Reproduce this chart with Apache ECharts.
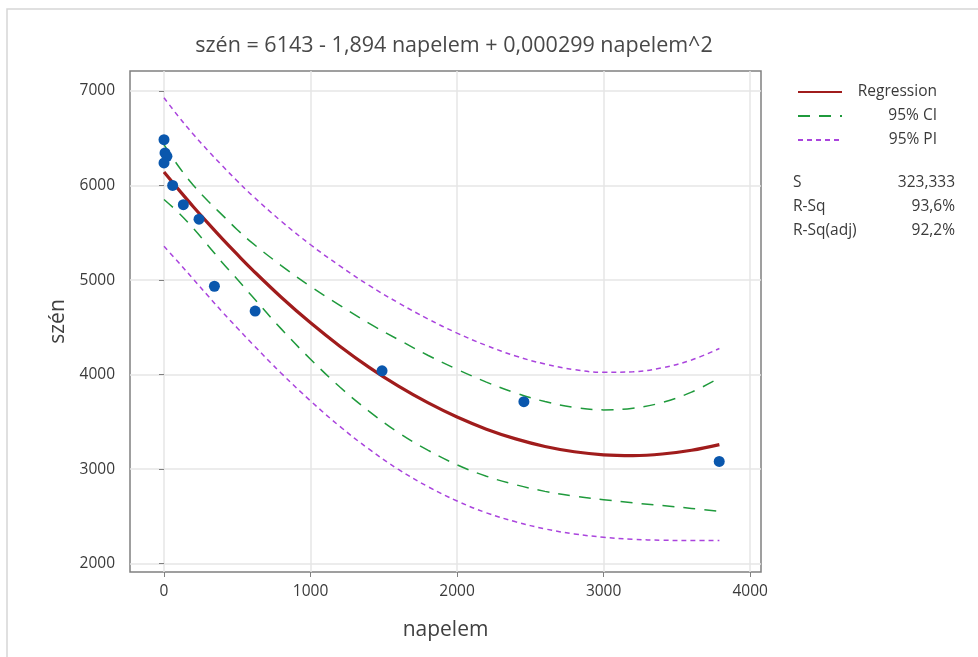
<!DOCTYPE html>
<html>
<head>
<meta charset="utf-8">
<script src="https://cdn.jsdelivr.net/npm/echarts@6/dist/echarts.min.js"></script>
<style>html,body{margin:0;padding:0;background:#fff;}#c{width:978px;height:657px;}</style>
</head>
<body>
<div id="c"></div>
<script>
// observed points
const napelem = [0, 7, 20, 0, 59, 132, 239, 344, 622, 1488, 2456, 3789];
const szen    = [6486, 6345, 6310, 6240, 6002, 5798, 5644, 4935, 4672, 4040, 3714, 3082];

// curve sample x positions
const curveX = [0,100,200,300,400,500,600,800,1000,1200,1400,1600,1800,2000,2200,2400,2600,2800,3000,3200,3400,3600,3790];
const regression = [6143,5957,5776,5602,5433,5271,5114,4819,4548,4301,4077,3878,3703,3551,3423,3320,3240,3184,3152,3144,3160,3200,3260];
const ciUpper = [6433,6202,6004,5837,5685,5533,5396,5154,4933,4733,4542,4370,4205,4056,3921,3805,3715,3654,3627,3644,3705,3815,3965];
const ciLower = [5853,5712,5548,5367,5181,5009,4832,4484,4163,3869,3612,3386,3201,3046,2925,2835,2765,2714,2677,2644,2615,2585,2555];
const piUpper = [6929,6728,6542,6370,6206,6048,5898,5623,5374,5150,4943,4759,4590,4439,4308,4197,4112,4053,4024,4030,4072,4155,4276];
const piLower = [5357,5186,5010,4834,4660,4494,4330,4015,3722,3452,3211,2997,2816,2663,2538,2443,2368,2315,2280,2258,2248,2245,2244];

const xTicks = [0,1000,2000,3000,4000];
const yTicks = [2000,3000,4000,5000,6000,7000];
const titleText = 'szén = 6143 - 1,894 napelem + 0,000299 napelem^2';
const statNames = ['S','R-Sq','R-Sq(adj)'];
const statValues = ['323,333','93,6%','92,2%'];

const FONT = '"Open Sans", "Noto Sans", sans-serif';
const TXT = '#3a3a3a';
const pair = (xs, ys) => xs.map((x, i) => [x, ys[i]]);

const chart = echarts.init(document.getElementById('c'), null, {renderer: 'canvas'});
const axisCommon = {
  axisLine: {show: false},
  axisTick: {show: true, length: 5, lineStyle: {color: '#808080'}},
  splitLine: {show: true, lineStyle: {color: '#e6e6e6', width: 1.5}},
  axisLabel: {color: TXT, fontSize: 15.5, fontFamily: FONT, formatter: v => String(v)},
  nameTextStyle: {color: '#404040', fontSize: 21, fontFamily: FONT}
};
chart.setOption({
  animation: false,
  backgroundColor: '#fff',
  title: {
    text: titleText, left: 449, top: 30, textAlign: 'center',
    textStyle: {color: '#484848', fontSize: 21.5, fontWeight: 'normal', fontFamily: FONT}
  },
  grid: {left: 130, right: 217, top: 71, bottom: 85, show: true, borderColor: '#808080', borderWidth: 1.5, backgroundColor: 'transparent'},
  xAxis: Object.assign({}, axisCommon, {
    type: 'value', min: -232, max: 4074,
    name: 'napelem', nameLocation: 'middle', nameGap: 48,
    axisTick: Object.assign({}, axisCommon.axisTick, {customValues: xTicks}),
    axisLabel: Object.assign({}, axisCommon.axisLabel, {customValues: xTicks, margin: 12})
  }),
  yAxis: Object.assign({}, axisCommon, {
    type: 'value', min: 1912, max: 7212,
    name: 'szén', nameLocation: 'middle', nameGap: 55,
    axisTick: Object.assign({}, axisCommon.axisTick, {customValues: yTicks}),
    axisLabel: Object.assign({}, axisCommon.axisLabel, {customValues: yTicks, margin: 15})
  }),
  legend: {
    orient: 'vertical', left: 792, top: 79, itemWidth: 44, itemHeight: 14, itemGap: 8,
    data: ['Regression','95% CI','95% PI'],
    itemStyle: {opacity: 0},
    formatter: n => '{a|' + n + '}',
    textStyle: {color: TXT, fontSize: 15.5, fontFamily: FONT, lineHeight: 14,
      rich: {a: {width: 90, align: 'right', lineHeight: 14, fontSize: 15.5, fontFamily: FONT, color: TXT}}}
  },
  graphic: [
    {type: 'rect', shape: {x: 7, y: 9, width: 1200, height: 1000}, style: {fill: 'none', stroke: '#d6d6d6', lineWidth: 1.5}, silent: true},
    {type: 'group', left: 793, top: 175, children: statNames.map((s, i) => ({
      type: 'text', x: 0, y: i * 24, style: {text: s, fill: TXT, font: '15.5px ' + FONT}
    })).concat(statValues.map((s, i) => ({
      type: 'text', x: 162, y: i * 24, style: {text: s, fill: TXT, font: '15.5px ' + FONT, textAlign: 'right'}
    })))}
  ],
  series: [
    {name: '95% PI', type: 'line', data: pair(curveX, piUpper), smooth: 0.4, symbol: 'none',
      lineStyle: {color: '#aa44dd', width: 1.5, type: [5, 4]}, itemStyle: {color: '#aa44dd'}, z: 2},
    {name: '95% PI', type: 'line', data: pair(curveX, piLower), smooth: 0.4, symbol: 'none',
      lineStyle: {color: '#aa44dd', width: 1.5, type: [5, 4]}, itemStyle: {color: '#aa44dd'}, z: 2},
    {name: '95% CI', type: 'line', data: pair(curveX, ciUpper), smooth: 0.4, symbol: 'none',
      lineStyle: {color: '#1f9a3c', width: 1.5, type: [12, 9]}, itemStyle: {color: '#1f9a3c'}, z: 2},
    {name: '95% CI', type: 'line', data: pair(curveX, ciLower), smooth: 0.4, symbol: 'none',
      lineStyle: {color: '#1f9a3c', width: 1.5, type: [12, 9]}, itemStyle: {color: '#1f9a3c'}, z: 2},
    {name: 'Regression', type: 'line', data: pair(curveX, regression), smooth: 0.4, symbol: 'none',
      lineStyle: {color: '#a01c1c', width: 3.2}, itemStyle: {color: '#a01c1c'}, z: 3},
    {name: 'data', type: 'scatter', data: pair(napelem, szen), symbol: 'circle', symbolSize: 11,
      itemStyle: {color: '#0a57ad', opacity: 1}, z: 4}
  ]
});
</script>
</body>
</html>
